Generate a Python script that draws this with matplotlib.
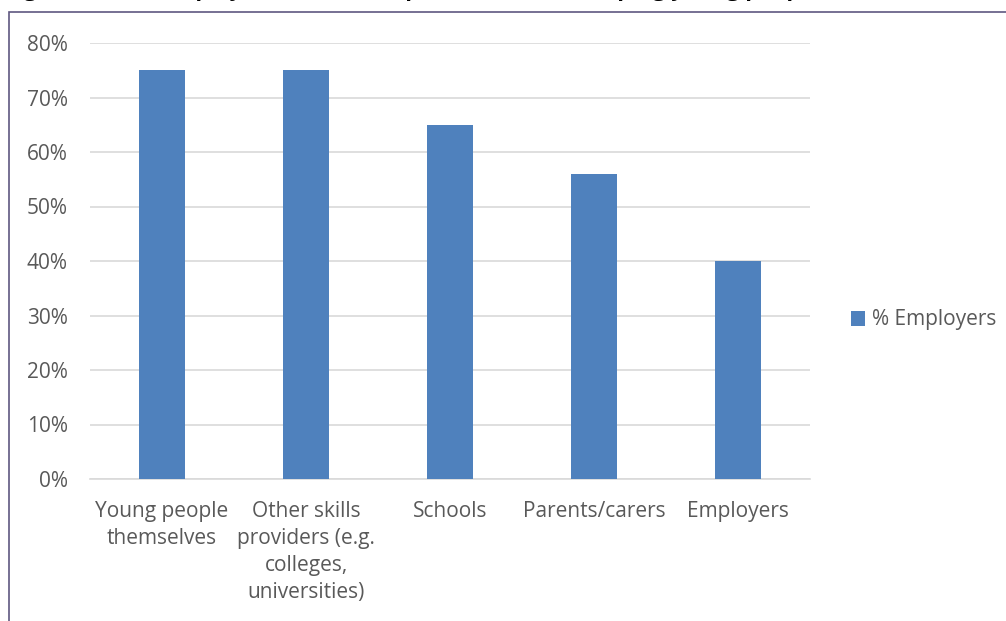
import matplotlib
matplotlib.use("Agg")
import matplotlib.pyplot as plt
from matplotlib.patches import Rectangle
from matplotlib.ticker import FuncFormatter

categories = ["Young people\nthemselves",
              "Other skills\nproviders (e.g.\ncolleges,\nuniversities)",
              "Schools", "Parents/carers", "Employers"]
values = [75, 75, 65, 56, 40]
series_name = "% Employers"
yticks = [0, 10, 20, 30, 40, 50, 60, 70, 80]
title = "Figure 3: Who employers think is responsible for developing young people"

plt.rcParams['font.family'] = ['Open Sans', 'DejaVu Sans']

W, H = 1006, 621
fig = plt.figure(figsize=(W / 100, H / 100), dpi=100)

# chart frame (cut by figure edges)
fig.patches.append(Rectangle((9 / W, -0.1), 1.2, (H - 12) / H + 0.1,
                             transform=fig.transFigure, fill=False,
                             edgecolor='#5f5880', linewidth=1.2))
# title, mostly cut off by the top edge as in the source
fig.text(5 / W, (H + 4) / H, title, fontsize=16, fontweight='bold',
         color='black', ha='left', va='baseline')

ax = fig.add_axes([90 / W, (H - 479) / H, 720 / W, (479 - 43) / H])
x = range(len(categories))
ax.bar(x, values, width=0.32, color='#4F81BD', label=series_name, zorder=3)
ax.set_xlim(-0.5, len(categories) - 0.5)
ax.set_ylim(0, 80)
ax.set_yticks(yticks)
ax.yaxis.set_major_formatter(FuncFormatter(lambda v, p: f"{v:.0f}%"))
ax.grid(axis='y', color='#D9D9D9', linewidth=1.2, zorder=0)
for s in ['top', 'right', 'left']:
    ax.spines[s].set_visible(False)
ax.spines['bottom'].set_color('#D9D9D9')
ax.spines['bottom'].set_linewidth(1.2)
ax.set_xticks(list(x))
ax.set_xticklabels(categories, fontsize=15, color='#595959', linespacing=1.38)
ax.tick_params(axis='x', length=0, pad=16)
ax.tick_params(axis='y', length=0, pad=16, labelsize=15, labelcolor='#595959')

leg = fig.legend(loc='center left', bbox_to_anchor=(832 / W, (H - 320) / H),
                 frameon=False, fontsize=15, handlelength=0.7, handleheight=0.7,
                 handletextpad=0.3, labelcolor='#595959')

fig.savefig("out.png", dpi=100)
